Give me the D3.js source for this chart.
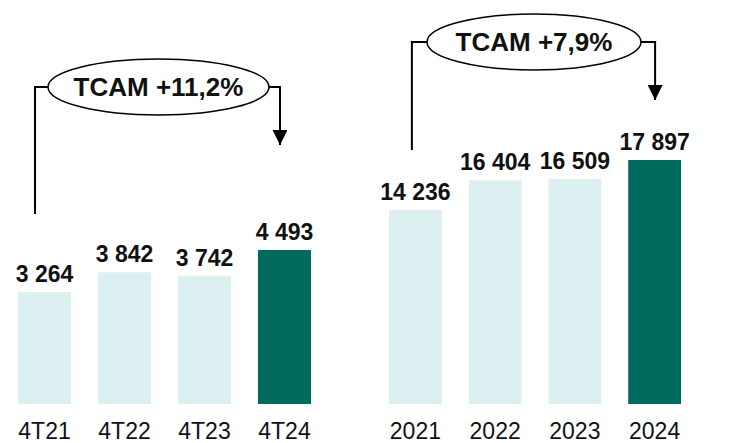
<!DOCTYPE html>
<html>
<head>
<meta charset="utf-8">
<script src="https://cdn.jsdelivr.net/npm/d3@7"></script>
<style>
  html, body { margin: 0; padding: 0; background: #fff; }
  svg { display: block; font-family: Arial, "Liberation Sans", sans-serif; }
</style>
</head>
<body>
<div id="chart"></div>
<script>
// quarterly panel
let quarters = ["4T21", "4T22", "4T23", "4T24"];
let quarterValues = [3264, 3842, 3742, 4493];
let quarterCagr = "TCAM +11,2%";

// yearly panel
let years = ["2021", "2022", "2023", "2024"];
let yearValues = [14236, 16404, 16509, 17897];
let yearCagr = "TCAM +7,9%";

let w = 738;
let h = 443;
let lightColor = "#dcf0f2";
let darkColor = "#006a5f";

let svg = d3
  .select("#chart")
  .append("svg")
  .attr("width", w)
  .attr("height", h);

let defs = svg.append("defs");
defs
  .append("marker")
  .attr("id", "arrow")
  .attr("viewBox", "0 0 10 10")
  .attr("refX", 10)
  .attr("refY", 5)
  .attr("markerWidth", 16)
  .attr("markerHeight", 15)
  .attr("markerUnits", "userSpaceOnUse")
  .attr("orient", "auto")
  .append("path")
  .attr("d", "M0,0 L10,5 L0,10 Z")
  .attr("fill", "#000");

function fmt(v) {
  // thousands separated by a space
  return d3.format(",")(v).replace(/,/g, " ");
}

function drawPanel(cats, vals, label, opt) {
  let base = 404;
  let x = d3
    .scaleBand()
    .domain(cats)
    .range([opt.x0, opt.x1])
    .paddingInner(0.3375)
    .paddingOuter(0.169);

  let y = d3
    .scaleLinear()
    .domain([0, d3.max(vals)])
    .range([base, opt.topY]);

  let g = svg.append("g");

  g.selectAll("rect")
    .data(vals)
    .enter()
    .append("rect")
    .attr("x", (d, i) => x(cats[i]))
    .attr("y", d => y(d))
    .attr("width", x.bandwidth())
    .attr("height", d => base - y(d))
    .attr("fill", (d, i) => (i == cats.length - 1 ? darkColor : lightColor));

  g.selectAll("text.val")
    .data(vals)
    .enter()
    .append("text")
    .attr("class", "val")
    .text(d => fmt(d))
    .attr("x", (d, i) => x(cats[i]) + x.bandwidth() / 2)
    .attr("y", d => y(d) - 10)
    .attr("text-anchor", "middle")
    .attr("font-size", 23)
    .attr("font-weight", "bold")
    .attr("fill", "#111");

  let axis = d3.axisBottom(x).tickSize(0).tickPadding(19);
  let ax = g
    .append("g")
    .attr("transform", "translate(0," + base + ")")
    .call(axis);
  ax.select(".domain").remove();
  ax.selectAll("text")
    .attr("font-size", 23)
    .attr("font-family", "Arial, 'Liberation Sans', sans-serif")
    .attr("fill", "#111");

  // CAGR bracket with ellipse
  let leftX = x(cats[0]) + x.bandwidth() / 2 + opt.leftOff;
  let rightX = x(cats[cats.length - 1]) + x.bandwidth() / 2 + opt.rightOff;
  let cy = opt.cy;

  g.append("path")
    .attr("d", "M" + leftX + "," + opt.leftEnd + " V" + cy + " H" + (opt.cx - opt.rx))
    .attr("fill", "none")
    .attr("stroke", "#000")
    .attr("stroke-width", 2);

  g.append("path")
    .attr("d", "M" + (opt.cx + opt.rx) + "," + cy + " H" + rightX + " V" + opt.arrowTip)
    .attr("fill", "none")
    .attr("stroke", "#000")
    .attr("stroke-width", 2)
    .attr("marker-end", "url(#arrow)");

  g.append("ellipse")
    .attr("cx", opt.cx)
    .attr("cy", cy)
    .attr("rx", opt.rx)
    .attr("ry", opt.ry)
    .attr("fill", "#fff")
    .attr("stroke", "#000")
    .attr("stroke-width", 1.5);

  g.append("text")
    .text(label)
    .attr("x", opt.cx)
    .attr("y", cy + 9)
    .attr("text-anchor", "middle")
    .attr("font-size", 26)
    .attr("font-weight", "bold")
    .attr("fill", "#111");
}

drawPanel(quarters, quarterValues, quarterCagr, {
  x0: 4.5,
  x1: 324.5,
  topY: 250,
  cx: 158.5,
  cy: 87,
  rx: 110.5,
  ry: 28,
  leftOff: -9.5,
  rightOff: -4.5,
  leftEnd: 214,
  arrowTip: 145
});

drawPanel(years, yearValues, yearCagr, {
  x0: 375.5,
  x1: 694.5,
  topY: 160,
  cx: 534,
  cy: 42,
  rx: 107,
  ry: 28,
  leftOff: -3.5,
  rightOff: 0.5,
  leftEnd: 150,
  arrowTip: 100
});
</script>
</body>
</html>
